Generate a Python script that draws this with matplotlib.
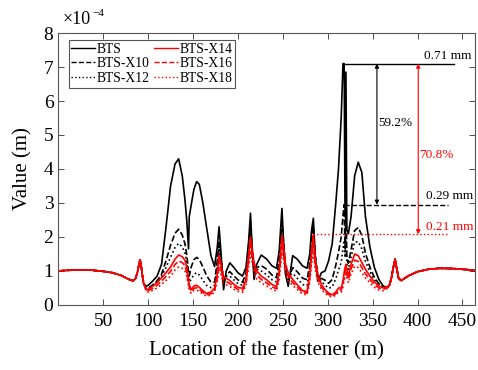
import numpy as np
import matplotlib.pyplot as plt

plt.rcParams['font.family'] = ['Liberation Serif', 'DejaVu Serif']

# shared part of the curves (all six cases coincide away from the transition zone)
left_x = [0, 10, 20, 35, 50, 60, 70, 78, 83.5, 86, 88, 89.5, 91, 92.5, 94]
left_y = [1.00, 1.02, 1.03, 1.03, 0.99, 0.95, 0.87, 0.76, 0.71, 0.78, 0.95, 1.15, 1.33, 1.10, 0.80]
right_x = [369, 371, 373, 375, 377, 379, 382, 390, 400, 412, 425, 440, 455, 464]
right_y = [0.60, 0.80, 1.10, 1.35, 1.05, 0.78, 0.72, 0.86, 0.98, 1.05, 1.08, 1.07, 1.04, 1.01]

# transition zone, values in 1e-4 m
mid_x = [95, 98, 100, 105, 110, 115, 120, 125, 130, 134, 138, 141, 143, 145, 145.8,
         148, 151, 154, 157, 161, 165, 170, 174, 177, 179, 181, 184, 187, 191, 195,
         200, 205, 209, 212, 214, 216, 218, 221, 226, 232, 238, 243, 246, 249, 251,
         253, 256, 261, 266, 272, 277, 280, 282, 284, 286, 289, 293, 297, 301, 305,
         309, 312, 315, 317, 318.3, 319.3, 320.3, 321.3, 323, 326, 330, 334, 338, 342,
         347, 352, 357, 362, 367]
bts = [0.62, 0.55, 0.58, 0.70, 0.85, 1.2, 2.3, 3.5, 4.15, 4.3, 3.8, 3.1, 2.5, 1.65, 2.6,
       2.95, 3.4, 3.63, 3.55, 3.0, 2.3, 1.45, 1.13, 1.7, 2.3, 1.6, 0.45, 1.0, 1.24, 1.12,
       0.95, 0.85, 1.1, 1.9, 2.7, 1.6, 0.75, 1.2, 1.47, 1.35, 1.15, 1.08, 1.6, 2.84, 1.8,
       0.9, 0.55, 1.45, 1.35, 1.15, 1.08, 1.5, 2.2, 2.55, 1.5, 0.7, 0.95, 1.0, 1.3, 1.8,
       3.0, 4.0, 5.5, 7.1, 7.1, 2.6, 6.85, 2.2, 2.1, 2.6, 3.8, 4.2, 3.9, 2.6,
       1.7, 1.1, 0.75, 0.55, 0.52]
x10 = [0.64, 0.47, 0.49, 0.59, 0.71, 0.91, 1.31, 1.76, 2.11, 2.23, 2.06, 1.80, 1.48, 0.99, 0.85,
       1.12, 1.33, 1.40, 1.34, 1.12, 0.87, 0.67, 0.67, 1.3, 1.89, 1.4, 0.64, 0.89, 0.98, 0.87,
       0.74, 0.67, 0.93, 1.7, 2.35, 1.6, 1.0, 1.1, 1.16, 1.05, 0.88, 0.81, 1.3, 2.45, 1.75,
       1.05, 0.75, 1.1, 0.98, 0.79, 0.74, 1.2, 1.9, 2.32, 1.45, 0.8, 0.78, 0.73, 0.64, 0.75,
       1.17, 1.55, 2.0, 2.62, 2.95, 1.67, 2.9, 1.4, 1.23, 1.62, 2.19, 2.28, 2.05, 1.52,
       1.11, 0.81, 0.62, 0.52, 0.53]
x12 = [0.65, 0.45, 0.47, 0.57, 0.68, 0.85, 1.11, 1.41, 1.69, 1.81, 1.71, 1.53, 1.27, 0.85, 0.68,
       0.75, 0.90, 0.95, 0.88, 0.73, 0.58, 0.51, 0.58, 1.1, 1.68, 1.3, 0.74, 0.84, 0.85, 0.75,
       0.63, 0.58, 0.84, 1.6, 2.18, 1.6, 1.13, 1.05, 1.0, 0.89, 0.74, 0.68, 1.15, 2.25, 1.72,
       1.13, 0.85, 0.93, 0.79, 0.6, 0.57, 1.05, 1.75, 2.2, 1.43, 0.85, 0.69, 0.59, 0.49, 0.53,
       0.77, 1.03, 1.25, 1.66, 1.9, 1.4, 2.05, 1.22, 1.04, 1.41, 1.85, 1.86, 1.65, 1.28,
       0.98, 0.74, 0.59, 0.51, 0.54]
x14 = [0.65, 0.44, 0.46, 0.55, 0.66, 0.80, 0.95, 1.12, 1.35, 1.47, 1.42, 1.32, 1.1, 0.74, 0.6,
       0.45, 0.56, 0.58, 0.52, 0.42, 0.34, 0.38, 0.5, 0.9, 1.47, 1.2, 0.83, 0.78, 0.72, 0.62,
       0.52, 0.49, 0.75, 1.5, 2.0, 1.6, 1.25, 1.0, 0.85, 0.74, 0.6, 0.54, 1.0, 2.05, 1.7,
       1.2, 0.95, 0.75, 0.6, 0.42, 0.4, 0.9, 1.6, 2.08, 1.4, 0.9, 0.6, 0.45, 0.35, 0.3,
       0.38, 0.5, 0.5, 0.7, 0.95, 1.1, 1.2, 1.05, 0.85, 1.2, 1.5, 1.45, 1.25, 1.05,
       0.85, 0.68, 0.56, 0.5, 0.55]
x16 = [0.65, 0.42, 0.42, 0.49, 0.58, 0.70, 0.84, 0.99, 1.19, 1.29, 1.25, 1.16, 0.97, 0.65, 0.53,
       0.40, 0.49, 0.51, 0.46, 0.37, 0.30, 0.33, 0.44, 0.79, 1.29, 1.06, 0.73, 0.69, 0.63, 0.55,
       0.46, 0.43, 0.66, 1.32, 1.76, 1.41, 1.1, 0.88, 0.75, 0.65, 0.53, 0.48, 0.88, 1.8, 1.5,
       1.06, 0.84, 0.66, 0.53, 0.37, 0.35, 0.79, 1.41, 1.83, 1.23, 0.79, 0.53, 0.4, 0.31, 0.26,
       0.33, 0.44, 0.44, 0.62, 0.84, 0.97, 1.06, 0.92, 0.75, 1.06, 1.32, 1.28, 1.1, 0.92,
       0.75, 0.6, 0.5, 0.46, 0.52]
x18 = [0.65, 0.40, 0.38, 0.43, 0.50, 0.61, 0.72, 0.85, 1.03, 1.12, 1.08, 1.0, 0.84, 0.56, 0.46,
       0.34, 0.43, 0.44, 0.40, 0.32, 0.26, 0.29, 0.38, 0.68, 1.12, 0.91, 0.63, 0.59, 0.55, 0.47,
       0.40, 0.37, 0.57, 1.14, 1.52, 1.22, 0.95, 0.76, 0.65, 0.56, 0.46, 0.41, 0.76, 1.56, 1.29,
       0.91, 0.72, 0.57, 0.46, 0.32, 0.30, 0.68, 1.22, 1.58, 1.06, 0.68, 0.46, 0.34, 0.27, 0.23,
       0.29, 0.38, 0.38, 0.53, 0.72, 0.84, 0.91, 0.8, 0.65, 0.91, 1.14, 1.1, 0.95, 0.8,
       0.65, 0.52, 0.44, 0.42, 0.5]

labels = ['BTS', 'BTS-X10', 'BTS-X12', 'BTS-X14', 'BTS-X16', 'BTS-X18']
series = [bts, x10, x12, x14, x16, x18]
colors = ['black', 'black', 'black', 'red', 'red', 'red']
styles = ['-', '--', ':', '-', '--', ':']

fig = plt.figure(figsize=(4.78, 3.70), dpi=100)
ax = fig.add_axes([0.122, 0.1757, 0.8717, 0.7351])

xs = np.array(left_x + mid_x + right_x)
for lab, ys, c, ls in zip(labels, series, colors, styles):
    y = np.array(left_y + ys + right_y)
    ax.plot(xs, y, color=c, linestyle=ls, linewidth=1.2, label=lab)

# reference levels and reductions
ax.plot([318, 441], [7.1, 7.1], color='black', linewidth=1.0)
ax.plot([318, 434], [2.95, 2.95], color='black', linestyle='--', linewidth=1.0)
ax.plot([283.5, 434], [2.08, 2.08], color='red', linestyle=':', linewidth=1.0)
ax.annotate('', xy=(354.8, 2.95), xytext=(354.8, 7.1),
            arrowprops=dict(arrowstyle='<|-|>', color='black', lw=0.8, mutation_scale=6,
                            shrinkA=0, shrinkB=0))
ax.annotate('', xy=(400.8, 2.08), xytext=(400.8, 7.1),
            arrowprops=dict(arrowstyle='<|-|>', color='red', lw=0.8, mutation_scale=6,
                            shrinkA=0, shrinkB=0))
ax.text(407, 7.33, '0.71 mm', fontsize=9.5, va='center', ha='left')
ax.text(410, 3.21, '0.29 mm', fontsize=9.5, va='center', ha='left')
ax.text(410, 2.28, '0.21 mm', fontsize=9.5, va='center', ha='left', color='red')
ax.text(356, 5.34, '59.2%', fontsize=9.5, va='center', ha='left')
ax.text(402, 4.41, '70.8%', fontsize=9.5, va='center', ha='left', color='red')

ax.set_xlim(0, 464)
ax.set_ylim(0, 8)
ax.set_xticks(np.arange(50, 451, 50))
ax.set_yticks(np.arange(0, 9, 1))
ax.tick_params(direction='in', top=True, right=True, length=4, width=0.6,
               labelsize=14, colors='#333333', labelcolor='black')
ax.tick_params(axis='x', pad=6)
for s in ax.spines.values():
    s.set_color('#555555')
    s.set_linewidth(0.8)

ax.set_xlabel('Location of the fastener (m)', fontsize=15, labelpad=8)
ax.set_ylabel('Value (m)', fontsize=15, labelpad=8)
# axis multiplier, drawn as plain text like the original
fig.text(63 / 478, 1 - 19 / 370, '\u00d710', fontsize=13, va='center', ha='left')
fig.text(92 / 478, 1 - 13 / 370, '\u22124', fontsize=8, va='center', ha='left')

leg = ax.legend(ncol=2, loc='upper left', bbox_to_anchor=(0.025, 0.975), borderaxespad=0,
                fontsize=9.8, handlelength=1.7, handletextpad=0.15, columnspacing=0.35,
                labelspacing=0.12, borderpad=0.2, fancybox=False, framealpha=1)
leg.get_frame().set_edgecolor('#555555')
leg.get_frame().set_linewidth(0.8)
for h in leg.get_lines():
    h.set_linewidth(1.0)

fig.savefig('out.png', dpi=100)
